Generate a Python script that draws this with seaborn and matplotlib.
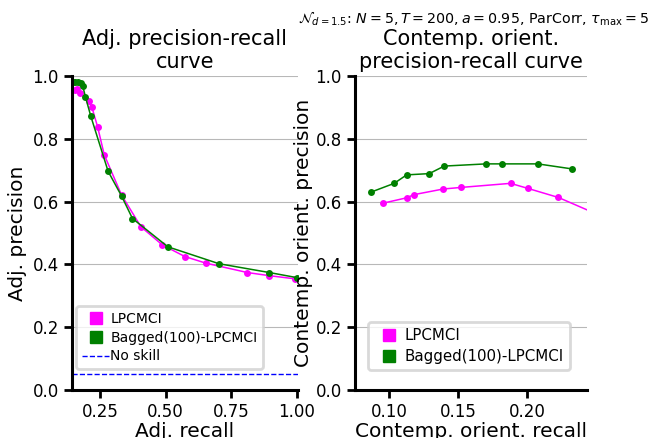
import numpy as np
import pandas as pd
import matplotlib
matplotlib.use("Agg")
import matplotlib.pyplot as plt
import seaborn as sns
from matplotlib.lines import Line2D

# ---- data ----
adj_lp_recall = [0.153, 0.162, 0.172, 0.208, 0.218, 0.240, 0.265, 0.331, 0.405, 0.487, 0.573, 0.653, 0.812, 0.896, 0.994]
adj_lp_prec = [0.955, 0.958, 0.947, 0.921, 0.900, 0.837, 0.749, 0.621, 0.520, 0.462, 0.425, 0.404, 0.374, 0.364, 0.354]
adj_bag_recall = [0.145, 0.155, 0.165, 0.175, 0.183, 0.193, 0.214, 0.280, 0.331, 0.373, 0.508, 0.704, 0.896, 1.0]
adj_bag_prec = [0.980, 0.980, 0.980, 0.977, 0.968, 0.934, 0.871, 0.696, 0.618, 0.546, 0.456, 0.402, 0.374, 0.358]

ori_lp_recall = [0.0959, 0.1128, 0.118, 0.1392, 0.152, 0.1878, 0.2003, 0.2224, 0.258]
ori_lp_prec = [0.595, 0.612, 0.622, 0.640, 0.645, 0.658, 0.642, 0.613, 0.545]
ori_bag_recall = [0.087, 0.1038, 0.1128, 0.1291, 0.1399, 0.1702, 0.1815, 0.2075, 0.2322]
ori_bag_prec = [0.630, 0.658, 0.685, 0.689, 0.713, 0.720, 0.720, 0.720, 0.704]

no_skill = 0.05
methods = ["LPCMCI", "Bagged(100)-LPCMCI"]
colors = {"LPCMCI": "#ff00ff", "Bagged(100)-LPCMCI": "green"}

adj_df = pd.DataFrame({
    "recall": adj_lp_recall + adj_bag_recall,
    "precision": adj_lp_prec + adj_bag_prec,
    "method": [methods[0]] * len(adj_lp_recall) + [methods[1]] * len(adj_bag_recall),
})
ori_df = pd.DataFrame({
    "recall": ori_lp_recall + ori_bag_recall,
    "precision": ori_lp_prec + ori_bag_prec,
    "method": [methods[0]] * len(ori_lp_recall) + [methods[1]] * len(ori_bag_recall),
})

sns.set_style("ticks", {"axes.edgecolor": "black", "text.color": "black",
                        "xtick.color": "black", "ytick.color": "black",
                        "axes.labelcolor": "black"})
plt.rcParams["font.family"] = ["DejaVu Sans"]

fig = plt.figure(figsize=(6.49, 4.38), dpi=100)
ax1 = fig.add_axes([0.111, 0.1096, 0.348, 0.717])
ax2 = fig.add_axes([0.547, 0.1096, 0.357, 0.717])

for ax, df in [(ax1, adj_df), (ax2, ori_df)]:
    sns.lineplot(data=df, x="recall", y="precision", hue="method", palette=colors,
                 marker="o", markersize=5, markeredgewidth=0, linewidth=1.1,
                 sort=False, estimator=None, ax=ax, legend=False)
    ax.set_ylim(0, 1)
    ax.set_yticks([0, 0.2, 0.4, 0.6, 0.8, 1.0])
    ax.yaxis.grid(True, color="#b8b8b8", linewidth=0.8)
    ax.set_axisbelow(True)
    for s in ["top", "right"]:
        ax.spines[s].set_visible(False)
    for s in ["left", "bottom"]:
        ax.spines[s].set_linewidth(2.2)
    ax.tick_params(axis="both", which="major", length=6, width=2, labelsize=12)

ax1.axhline(no_skill, color="blue", linestyle="--", linewidth=1)
ax1.set_xlim(0.142, 1.005)
ax1.set_xticks([0.25, 0.5, 0.75, 1.0])
ax2.set_xlim(0.0755, 0.2428)
ax2.set_xticks([0.10, 0.15, 0.20])

lab_fs = 14.5
ax1.set_xlabel("Adj. recall", fontsize=lab_fs, labelpad=0.5)
ax1.set_ylabel("Adj. precision", fontsize=lab_fs)
ax2.set_xlabel("Contemp. orient. recall", fontsize=lab_fs, labelpad=0.5)
ax2.set_ylabel("Contemp. orient. precision", fontsize=lab_fs, labelpad=2)
ax1.set_title("Adj. precision-recall\ncurve", fontsize=15, linespacing=1.15)
ax2.set_title("Contemp. orient.\nprecision-recall curve", fontsize=15, linespacing=1.15)

def handles(ms):
    h_lp = Line2D([], [], color=colors[methods[0]], marker="s", linestyle="none", markersize=ms)
    h_bag = Line2D([], [], color=colors[methods[1]], marker="s", linestyle="none", markersize=ms)
    return h_lp, h_bag

h_lp, h_bag = handles(8.5)
h_ns = Line2D([], [], color="blue", linestyle="--", linewidth=1)
leg1 = ax1.legend([h_lp, h_bag, h_ns], methods + ["No skill"], loc="lower left",
                  bbox_to_anchor=(0.018, 0.067), borderaxespad=0, fontsize=10,
                  handletextpad=0.05, handlelength=2.0, labelspacing=0.35)
h_lp2, h_bag2 = handles(8.5)
leg2 = ax2.legend([h_lp2, h_bag2], methods, loc="lower left", bbox_to_anchor=(0.056, 0.064),
                  borderaxespad=0, fontsize=10.8, handletextpad=0.05, handlelength=2.0,
                  labelspacing=0.4)
for leg in (leg1, leg2):
    leg.get_frame().set_edgecolor("#d0d0d0")
    leg.get_frame().set_linewidth(2)

fig.text(1.0, 0.958,
         r"$\mathcal{N}_{d=1.5}$: $N=5, T=200, a=0.95$, ParCorr, $\tau_{\max}=5$",
         ha="right", va="center", fontsize=10.3)

fig.savefig("out.png", dpi=100)
